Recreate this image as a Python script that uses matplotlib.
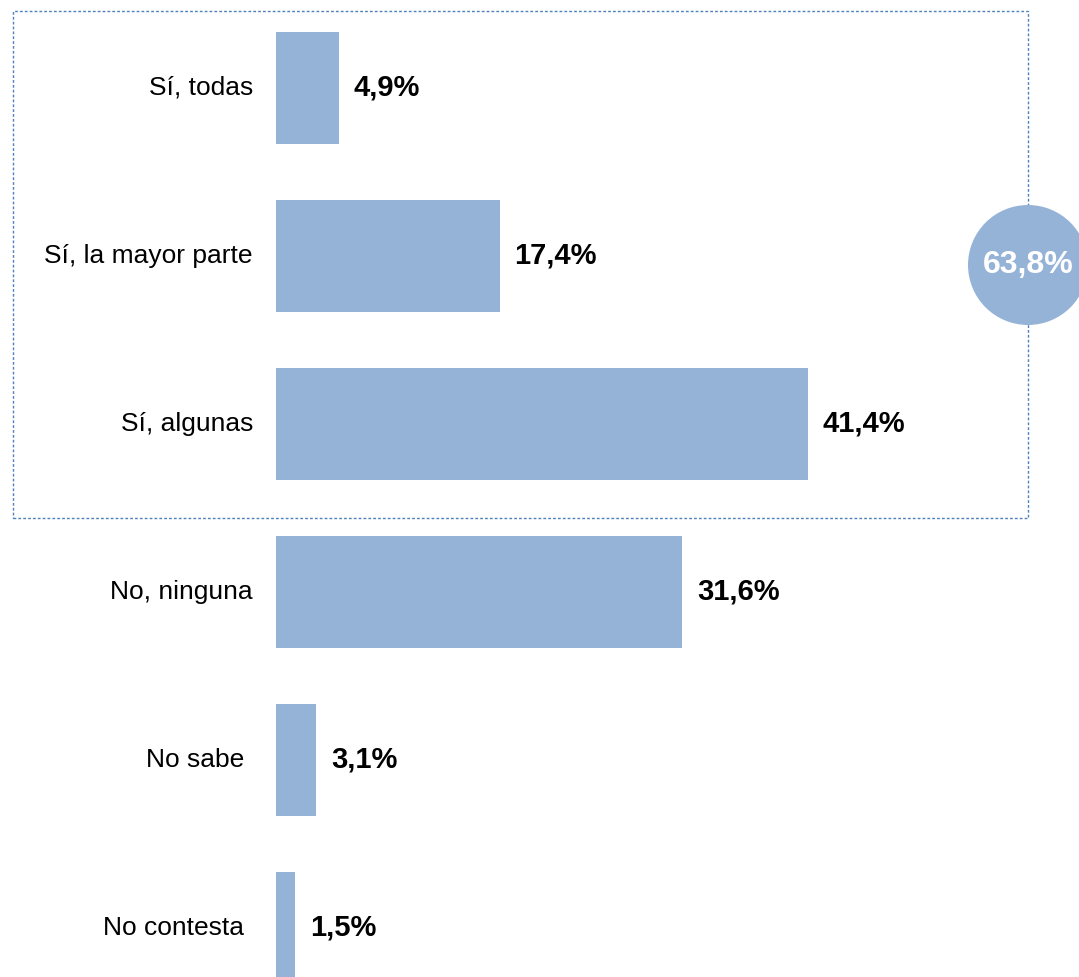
import matplotlib
matplotlib.use('Agg')
import matplotlib.pyplot as plt
from matplotlib.patches import Rectangle, Circle

categories = ['Sí, todas', 'Sí, la mayor parte', 'Sí, algunas',
              'No, ninguna', 'No sabe', 'No contesta']
values = [4.9, 17.4, 41.4, 31.6, 3.1, 1.5]
total_si = 63.8

BAR_COLOR = '#95B3D7'
plt.rcParams['font.family'] = ['Liberation Sans', 'DejaVu Sans']

W, H, DPI = 1079, 977, 100
fig = plt.figure(figsize=(W / DPI, H / DPI), dpi=DPI)

# axes starts at the bar base, runs to the right and bottom edges
left_px = 276
ax = fig.add_axes([left_px / W, 0, (W - left_px) / W, 1])
px_per_pct = 12.85
ax.set_xlim(0, (W - left_px) / px_per_pct)
step = 168.0
ax.set_ylim((H - 88) / step, -88 / step)

pos = list(range(len(categories)))
ax.barh(pos, values, height=112 / step, color=BAR_COLOR)

# the last two labels sit a bit further from the bars in the original
label_pad = [23, 23, 23, 23, 32, 32]
for p, cat, v, pad in zip(pos, categories, values, label_pad):
    ax.annotate(cat, (0, p), xytext=(-pad, 0), textcoords='offset pixels',
                ha='right', va='center', fontsize=19, color='black')
    ax.annotate(f'{v:.1f}%'.replace('.', ','), (v, p), xytext=(15, 0),
                textcoords='offset pixels', ha='left', va='center',
                fontsize=21, fontweight='bold', color='black')

ax.axis('off')

# dotted box around the "Sí" answers
box = Rectangle((0.13, (H - 518) / DPI), 10.15, 5.07,
                transform=fig.dpi_scale_trans, fill=False,
                edgecolor='#4F81BD', linestyle=(0, (2, 1.5)), linewidth=1)
fig.patches.append(box)

circ = Circle((10.28, (H - 265) / DPI), 0.60, transform=fig.dpi_scale_trans,
              facecolor=BAR_COLOR, edgecolor='none')
fig.patches.append(circ)
fig.text(10.28 / (W / DPI), (H - 265) / H, f'{total_si:.1f}%'.replace('.', ','),
         ha='center', va='center', fontsize=23, fontweight='bold', color='white')

fig.savefig('out.png', dpi=DPI)
